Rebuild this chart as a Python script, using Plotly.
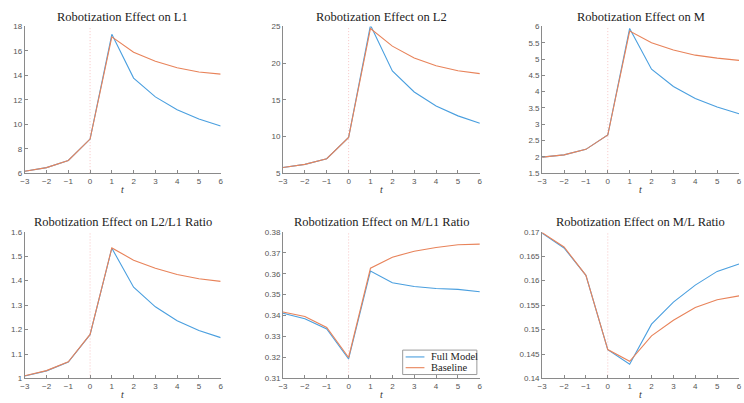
import plotly.graph_objects as go

t = [-3, -2, -1, 0, 1, 2, 3, 4, 5, 6]

titles = ["Robotization Effect on L1", "Robotization Effect on L2", "Robotization Effect on M",
          "Robotization Effect on L2/L1 Ratio", "Robotization Effect on M/L1 Ratio",
          "Robotization Effect on M/L Ratio"]
legend_names = ["Full Model", "Baseline"]

l1_full = [6.15, 6.45, 7.04, 8.79, 17.36, 13.78, 12.24, 11.18, 10.43, 9.85]
l1_base = [6.15, 6.45, 7.04, 8.79, 17.15, 15.90, 15.16, 14.63, 14.28, 14.10]

l2_full = [5.76, 6.20, 6.96, 9.87, 25.18, 18.93, 16.07, 14.15, 12.81, 11.79]
l2_base = [5.76, 6.20, 6.96, 9.87, 24.73, 22.32, 20.71, 19.64, 18.97, 18.57]

m_full = [1.99, 2.06, 2.23, 2.67, 5.94, 4.69, 4.16, 3.79, 3.53, 3.32]
m_base = [1.99, 2.06, 2.23, 2.67, 5.86, 5.50, 5.28, 5.12, 5.03, 4.96]

r21_full = [1.010, 1.031, 1.067, 1.179, 1.533, 1.373, 1.293, 1.236, 1.196, 1.167]
r21_base = [1.011, 1.032, 1.068, 1.180, 1.534, 1.484, 1.451, 1.425, 1.408, 1.397]

ml1_full = [0.3411, 0.3385, 0.3336, 0.3193, 0.3613, 0.3557, 0.3539, 0.3529, 0.3525, 0.3514]
ml1_base = [0.3417, 0.3396, 0.3343, 0.3200, 0.3626, 0.3679, 0.3707, 0.3725, 0.3738, 0.3741]

ml_full = [0.1697, 0.1667, 0.1611, 0.1459, 0.1429, 0.1511, 0.1556, 0.1591, 0.1619, 0.1634]
ml_base = [0.1698, 0.1669, 0.1611, 0.1459, 0.1435, 0.1487, 0.1519, 0.1545, 0.1561, 0.1569]

y_ranges = [[6, 18], [5, 25], [1.5, 6], [1, 1.6], [0.31, 0.38], [0.14, 0.17]]
y_dticks = [2, 5, 0.5, 0.1, 0.01, 0.005]

series = [(l1_full, l1_base), (l2_full, l2_base), (m_full, m_base),
          (r21_full, r21_base), (ml1_full, ml1_base), (ml_full, ml_base)]

BLUE = "#4A9FDF"
ORANGE = "#E8835A"
W, H = 744, 403

x_doms = [[20 / W, 218 / W], [281 / W, 480 / W], [543 / W, 742 / W]]
y_doms = [[1 - 173 / H, 1 - 23 / H], [1 - 383 / H, 1 - 233 / H]]

fig = go.Figure()
annotations = []
shapes = []
for i, (full, base) in enumerate(series):
    n = "" if i == 0 else str(i + 1)
    xa, ya = "x" + n, "y" + n
    fig.add_trace(go.Scatter(x=t, y=full, mode="lines", name=legend_names[0],
                             line=dict(color=BLUE, width=1.1), xaxis=xa, yaxis=ya,
                             showlegend=False))
    fig.add_trace(go.Scatter(x=t, y=base, mode="lines", name=legend_names[1],
                             line=dict(color=ORANGE, width=1.1), xaxis=xa, yaxis=ya,
                             showlegend=False))
    row, col = divmod(i, 3)
    axis_common = dict(showgrid=False, zeroline=False, showline=True, linecolor="#8a8a8a",
                       linewidth=1, ticks="inside", ticklen=3, tickcolor="#8a8a8a",
                       tickfont=dict(family="Liberation Sans, Arial", size=8, color="#555"))
    fig.layout["xaxis" + n] = dict(domain=x_doms[col], anchor=ya, range=[t[0], t[-1]],
                                   dtick=1, tick0=0, **axis_common)
    fig.layout["yaxis" + n] = dict(domain=y_doms[row], anchor=xa, range=y_ranges[i],
                                   dtick=y_dticks[i], tick0=0, **axis_common)
    shapes.append(dict(type="line", xref=xa, yref=ya, x0=0, x1=0,
                       y0=y_ranges[i][0], y1=y_ranges[i][1],
                       line=dict(color="#F5B8B8", width=0.8, dash="1px,2px"), layer="below"))
    cx = (x_doms[col][0] + x_doms[col][1]) / 2
    ty = 1 - (13 if row == 0 else 223) / H
    annotations.append(dict(text=titles[i], xref="paper", yref="paper", x=cx, y=ty,
                            xanchor="center", yanchor="middle", showarrow=False,
                            font=dict(family="Liberation Serif, Times New Roman", size=12.5,
                                      color="#222")))
    ly = 1 - (190 if row == 0 else 399) / H
    annotations.append(dict(text="<i>t</i>", xref="paper", yref="paper", x=cx, y=ly,
                            xanchor="center", yanchor="middle", showarrow=False,
                            font=dict(family="Liberation Serif", size=10, color="#333")))

# compact legend box inside the M/L1 panel (paper coordinates)
def px(x):
    return x / W


def py(y):
    return 1 - y / H


shapes.append(dict(type="rect", xref="paper", yref="paper", x0=px(402), x1=px(477),
                   y0=py(379), y1=py(354), line=dict(color="#9a9a9a", width=1),
                   fillcolor="white", layer="above"))
for k, (name, col_) in enumerate(zip(legend_names, [BLUE, ORANGE])):
    yy = 361 + k * 11
    shapes.append(dict(type="line", xref="paper", yref="paper", x0=px(405), x1=px(424),
                       y0=py(yy), y1=py(yy), line=dict(color=col_, width=1.1), layer="above"))
    annotations.append(dict(text=name, xref="paper", yref="paper", x=px(429), y=py(yy),
                            xanchor="left", yanchor="middle", showarrow=False,
                            font=dict(family="Liberation Serif", size=10.5, color="#222")))

fig.update_layout(
    width=W, height=H, margin=dict(l=0, r=0, t=0, b=0),
    paper_bgcolor="white", plot_bgcolor="white",
    annotations=annotations, shapes=shapes, showlegend=False,
)

fig.write_html("out.html")
